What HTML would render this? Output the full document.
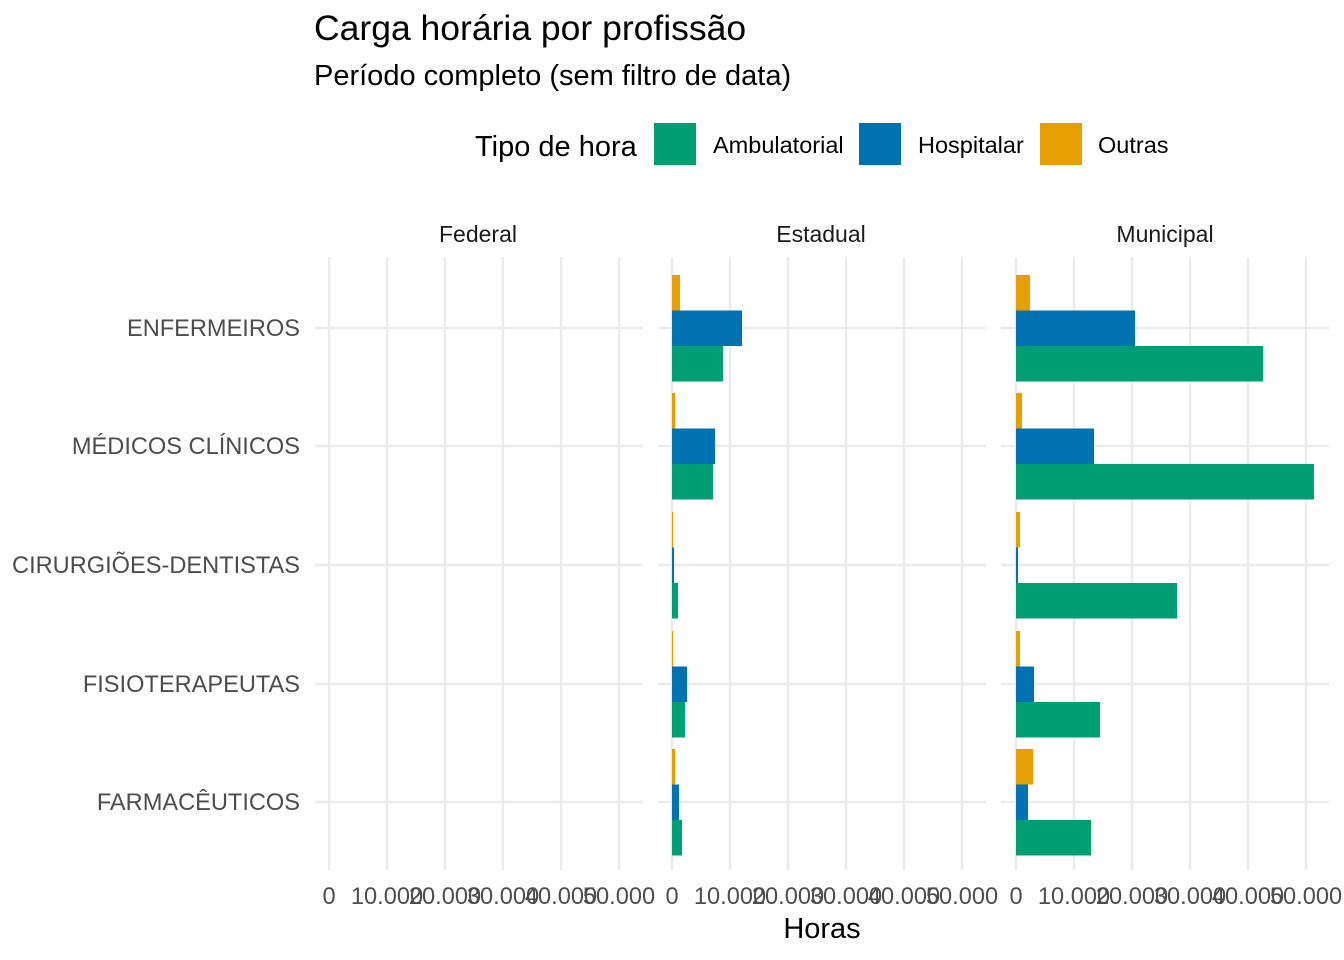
<!DOCTYPE html>
<html><head><meta charset="utf-8"><style>body{margin:0;background:#fff}svg{display:block}text{font-family:"Liberation Sans",sans-serif}</style></head><body>
<svg width="1344" height="960" xmlns="http://www.w3.org/2000/svg">
<rect width="1344" height="960" fill="#fff"/>
<text x="314" y="40" font-size="35.5" fill="#000">Carga horária por profissão</text>
<text x="314" y="85" font-size="29" fill="#000">Período completo (sem filtro de data)</text>
<text x="475" y="156" font-size="29" fill="#000">Tipo de hora</text>
<rect x="654" y="123" width="42" height="42" fill="#009E73"/>
<text x="713" y="153" font-size="23.5">Ambulatorial</text>
<rect x="859" y="123" width="42" height="42" fill="#0072B2"/>
<text x="918" y="153" font-size="23.5">Hospitalar</text>
<rect x="1040" y="123" width="42" height="42" fill="#E69F00"/>
<text x="1098" y="153" font-size="23.5">Outras</text>
<g font-size="23" fill="#1a1a1a" text-anchor="middle">
<text x="478" y="242">Federal</text><text x="821" y="242">Estadual</text><text x="1165" y="242">Municipal</text>
</g>
<g stroke="#EBEBEB" stroke-width="2.5">
<path d="M315 328H643M315 446H643M315 565H643M315 684H643M315 802H643"/>
<path d="M658 328H986M658 446H986M658 565H986M658 684H986M658 802H986"/>
<path d="M1001 328H1329M1001 446H1329M1001 565H1329M1001 684H1329M1001 802H1329"/>
<path d="M329 257V870M387 257V870M445 257V870M503 257V870M561 257V870M619 257V870"/>
<path d="M672 257V870M730 257V870M788 257V870M846 257V870M904 257V870M962 257V870"/>
<path d="M1016 257V870M1074 257V870M1132 257V870M1190 257V870M1248 257V870M1306 257V870"/>
</g>
<g>
<rect x="672" y="275" width="8" height="35.5" fill="#E69F00"/><rect x="672" y="310.5" width="70" height="35.5" fill="#0072B2"/><rect x="672" y="346" width="51" height="35.5" fill="#009E73"/>
<rect x="672" y="393" width="3" height="35.5" fill="#E69F00"/><rect x="672" y="428.5" width="43" height="35.5" fill="#0072B2"/><rect x="672" y="464" width="41" height="35.5" fill="#009E73"/>
<rect x="672" y="512" width="1" height="35.5" fill="#E69F00"/><rect x="672" y="547.5" width="2" height="35.5" fill="#0072B2"/><rect x="672" y="583" width="6" height="35.5" fill="#009E73"/>
<rect x="672" y="631" width="1" height="35.5" fill="#E69F00"/><rect x="672" y="666.5" width="15" height="35.5" fill="#0072B2"/><rect x="672" y="702" width="13" height="35.5" fill="#009E73"/>
<rect x="672" y="749" width="3" height="35.5" fill="#E69F00"/><rect x="672" y="784.5" width="7" height="35.5" fill="#0072B2"/><rect x="672" y="820" width="10" height="35.5" fill="#009E73"/>
<rect x="1016" y="275" width="14" height="35.5" fill="#E69F00"/><rect x="1016" y="310.5" width="119" height="35.5" fill="#0072B2"/><rect x="1016" y="346" width="247" height="35.5" fill="#009E73"/>
<rect x="1016" y="393" width="6" height="35.5" fill="#E69F00"/><rect x="1016" y="428.5" width="78" height="35.5" fill="#0072B2"/><rect x="1016" y="464" width="298" height="35.5" fill="#009E73"/>
<rect x="1016" y="512" width="4" height="35.5" fill="#E69F00"/><rect x="1016" y="547.5" width="2" height="35.5" fill="#0072B2"/><rect x="1016" y="583" width="161" height="35.5" fill="#009E73"/>
<rect x="1016" y="631" width="4" height="35.5" fill="#E69F00"/><rect x="1016" y="666.5" width="18" height="35.5" fill="#0072B2"/><rect x="1016" y="702" width="84" height="35.5" fill="#009E73"/>
<rect x="1016" y="749" width="17" height="35.5" fill="#E69F00"/><rect x="1016" y="784.5" width="12" height="35.5" fill="#0072B2"/><rect x="1016" y="820" width="75" height="35.5" fill="#009E73"/>
</g>
<g font-size="23.6" fill="#4d4d4d" text-anchor="end">
<text x="300" y="336">ENFERMEIROS</text><text x="300" y="454">MÉDICOS CLÍNICOS</text><text x="300" y="573">CIRURGIÕES-DENTISTAS</text><text x="300" y="692">FISIOTERAPEUTAS</text><text x="300" y="810">FARMACÊUTICOS</text>
</g>
<g font-size="23.6" fill="#4d4d4d" text-anchor="middle">
<text x="329" y="904">0</text><text x="387" y="904">10.000</text><text x="445" y="904">20.000</text><text x="503" y="904">30.000</text><text x="561" y="904">40.000</text><text x="619" y="904">50.000</text>
<text x="672" y="904">0</text><text x="730" y="904">10.000</text><text x="788" y="904">20.000</text><text x="846" y="904">30.000</text><text x="904" y="904">40.000</text><text x="962" y="904">50.000</text>
<text x="1016" y="904">0</text><text x="1074" y="904">10.000</text><text x="1132" y="904">20.000</text><text x="1190" y="904">30.000</text><text x="1248" y="904">40.000</text><text x="1306" y="904">50.000</text>
</g>
<text x="822" y="938" font-size="29" text-anchor="middle">Horas</text>
</svg>
</body></html>
